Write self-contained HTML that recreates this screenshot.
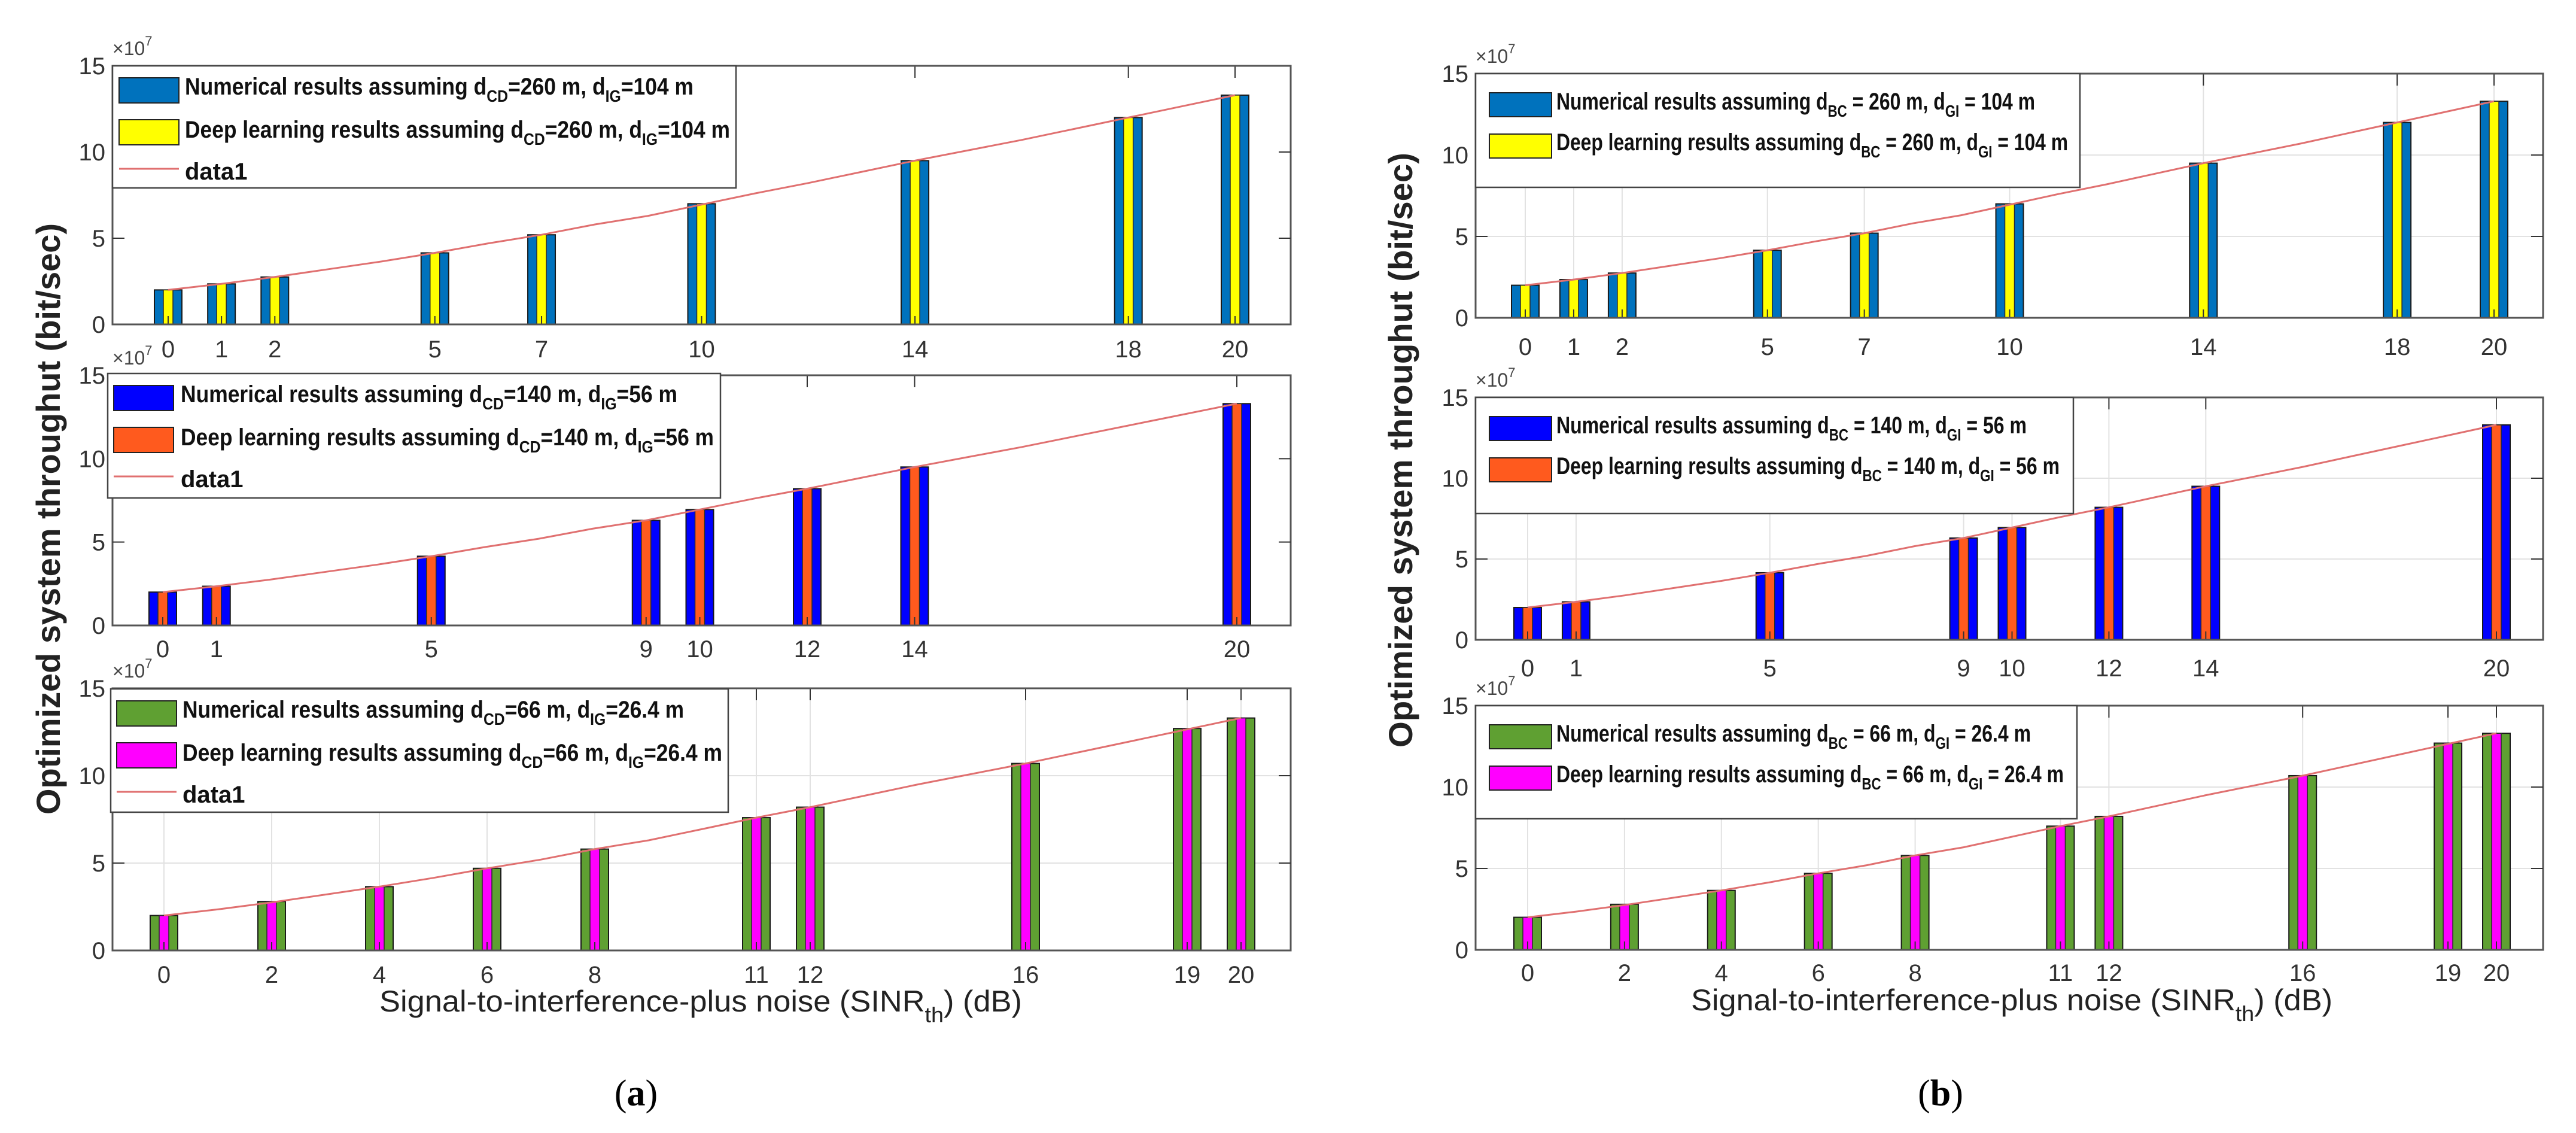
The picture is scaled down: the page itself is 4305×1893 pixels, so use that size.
<!DOCTYPE html>
<html><head><meta charset="utf-8">
<style>
html,body{margin:0;padding:0;background:#fff;}
svg{display:block;}
text{font-family:"Liberation Sans Narrow","Liberation Sans",sans-serif;}
</style></head>
<body>
<svg id="fig" width="4305" height="1893" viewBox="0 0 4305 1893" xmlns="http://www.w3.org/2000/svg">
<rect x="0" y="0" width="4305" height="1893" fill="#fff"/>
<text transform="translate(100,867) rotate(-90)" text-anchor="middle" font-family="Liberation Sans" font-weight="bold" font-size="56" fill="#222" textLength="988" lengthAdjust="spacingAndGlyphs" style="font-family:'Liberation Sans',sans-serif">Optimized system throughut (bit/sec)</text>
<text transform="translate(2360,752) rotate(-90)" text-anchor="middle" font-weight="bold" font-size="56" fill="#222" textLength="994" lengthAdjust="spacingAndGlyphs" style="font-family:'Liberation Sans',sans-serif">Optimized system throughut (bit/sec)</text>
<text x="634" y="1690" font-size="50" fill="#222" textLength="1074" lengthAdjust="spacingAndGlyphs">Signal-to-interference-plus noise (SINR<tspan font-size="36" dy="18">th</tspan><tspan dy="-18">) (dB)</tspan></text>
<text x="2826" y="1688" font-size="50" fill="#222" textLength="1072" lengthAdjust="spacingAndGlyphs">Signal-to-interference-plus noise (SINR<tspan font-size="36" dy="18">th</tspan><tspan dy="-18">) (dB)</tspan></text>
<text x="1063" y="1847" text-anchor="middle" font-size="62" fill="#000" style="font-family:'Liberation Serif',serif">(<tspan font-weight="bold">a</tspan>)</text>
<text x="3243" y="1847" text-anchor="middle" font-size="62" fill="#000" style="font-family:'Liberation Serif',serif">(<tspan font-weight="bold">b</tspan>)</text>
</svg>
<script>
// ---- data (values in units of 1e7 bit/sec) ----
const xTop = [0, 1, 2, 5, 7, 10, 14, 18, 20];
const yTopNum = [2.0, 2.35, 2.75, 4.15, 5.2, 7.0, 9.5, 12.0, 13.3];
const yTopDL = [2.0, 2.35, 2.75, 4.15, 5.2, 7.0, 9.5, 12.0, 13.3];
const xMid = [0, 1, 5, 9, 10, 12, 14, 20];
const yMidNum = [2.0, 2.35, 4.15, 6.3, 6.95, 8.2, 9.5, 13.3];
const yMidDL = [2.0, 2.35, 4.15, 6.3, 6.95, 8.2, 9.5, 13.3];
const xBot = [0, 2, 4, 6, 8, 11, 12, 16, 19, 20];
const yBotNum = [2.0, 2.8, 3.65, 4.7, 5.8, 7.6, 8.2, 10.7, 12.7, 13.3];
const yBotDL = [2.0, 2.8, 3.65, 4.7, 5.8, 7.6, 8.2, 10.7, 12.7, 13.3];
const lineX = [0,1,2,3,4,5,6,7,8,9,10,11,12,13,14,15,16,17,18,19,20];
const lineY = [2.0,2.35,2.75,3.2,3.65,4.15,4.7,5.2,5.8,6.3,6.95,7.6,8.2,8.85,9.5,10.1,10.7,11.35,12.0,12.65,13.3];
const yTicks = [0, 5, 10, 15];
const yTickLabels = ['0', '5', '10', '15'];

const NS = 'http://www.w3.org/2000/svg';
const svg = document.getElementById('fig');
function mk(tag, attrs, parent) {
  const e = document.createElementNS(NS, tag);
  for (const k in attrs) e.setAttribute(k, attrs[k]);
  parent.appendChild(e);
  return e;
}

function subplot(cfg) {
  const g = mk('g', {}, svg);
  
  
  const L = cfg.left, R = cfg.right, T = cfg.top, Z = cfg.zero;
  const xs = v => cfg.x0 + v * (cfg.x20 - cfg.x0) / 20;
  const ys = v => Z - v * (Z - T) / 15;
  // grid
  if (cfg.grid) {
    for (const t of [5, 10]) {
      const gl = mk('line', {x1: L, x2: R, y1: ys(t), y2: ys(t), stroke: '#e2e2e2', 'stroke-width': 2}, g);
      
      
    }
    for (const v of cfg.xs) {
      const gl = mk('line', {x1: xs(v), x2: xs(v), y1: T, y2: Z, stroke: '#e2e2e2', 'stroke-width': 2}, g);
      
      
    }
  }
  // bars
  cfg.xs.forEach((v, i) => {
    const b = mk('rect', {x: xs(v) - 23, y: ys(cfg.num[i]), width: 46, height: Z - ys(cfg.num[i]), fill: cfg.c1, stroke: '#1a1a1a', 'stroke-width': 2}, g);
    
    
    const d = mk('rect', {x: xs(v) - 8, y: ys(cfg.dl[i]), width: 16, height: Z - ys(cfg.dl[i]), fill: cfg.c2, stroke: '#2a2a2a', 'stroke-width': 1.5}, g);
    
    
    const tk = mk('line', {x1: xs(v), x2: xs(v), y1: Z, y2: Z - 14, stroke: '#333', 'stroke-width': 2}, g);
    
    
    const tt = mk('line', {x1: xs(v), x2: xs(v), y1: T, y2: T + 20, stroke: '#333', 'stroke-width': 2}, g);
    
    
    const lb = mk('text', {x: xs(v), y: cfg.labelY + 14, 'text-anchor': 'middle', 'font-size': 40, fill: '#333'}, g);
    lb.textContent = String(v);
    
    
  });
  // line
  const pts = lineX.map((v, i) => xs(v).toFixed(1) + ',' + ys(lineY[i]).toFixed(1)).join(' ');
  const pl = mk('polyline', {points: pts, fill: 'none', stroke: '#e07070', 'stroke-width': 3}, g);
  
  
  // axes box
  const box = mk('rect', {x: L, y: T, width: R - L, height: Z - T, fill: 'none', stroke: '#555', 'stroke-width': 3}, g);
  
  
  yTicks.forEach((t, i) => {
    const lb = mk('text', {x: L - 12, y: ys(t) + 14, 'text-anchor': 'end', 'font-size': 40, fill: '#333'}, g);
    lb.textContent = yTickLabels[i];
    
    
    if (t > 0 && t < 15) {
      const tk = mk('line', {x1: R, x2: R - 20, y1: ys(t), y2: ys(t), stroke: '#333', 'stroke-width': 2}, g);
      
      
      const tl = mk('line', {x1: L, x2: L + 20, y1: ys(t), y2: ys(t), stroke: '#333', 'stroke-width': 2}, g);
      
      
    }
  });
  const ex = mk('text', {x: L, y: T - 18, 'font-size': 32, fill: '#444'}, g);
  ex.innerHTML = '×10<tspan dy="-16" font-size="22">7</tspan>';
  
  
  // legend
  const lg = mk('g', {}, g);
  
  
  const lbx = mk('rect', {x: cfg.lx, y: cfg.ly, width: cfg.lw, height: cfg.lh, fill: '#fff', stroke: '#444', 'stroke-width': 2.5}, lg);
  
  
  const o = cfg.lo;
  const s1 = mk('rect', {x: o.sx, y: cfg.ly + o.s1, width: o.sw, height: o.sh, fill: cfg.c1, stroke: '#222', 'stroke-width': 2}, lg);
  
  
  const s2 = mk('rect', {x: o.sx, y: cfg.ly + o.s2, width: o.sw, height: o.sh, fill: cfg.c2, stroke: '#222', 'stroke-width': 2}, lg);
  
  
  const t1 = mk('text', {x: o.tx, y: cfg.ly + o.b1, 'font-size': 40, 'font-weight': 'bold', fill: '#111', textLength: o.w1, lengthAdjust: 'spacingAndGlyphs'}, lg);
  t1.innerHTML = cfg.t1;
  
  
  const t2 = mk('text', {x: o.tx, y: cfg.ly + o.b2, 'font-size': 40, 'font-weight': 'bold', fill: '#111', textLength: o.w2, lengthAdjust: 'spacingAndGlyphs'}, lg);
  t2.innerHTML = cfg.t2;
  
  
  if (cfg.data1) {
    const ll = mk('line', {x1: o.sx, x2: o.sx + o.sw, y1: cfg.ly + o.l3, y2: cfg.ly + o.l3, stroke: '#e07070', 'stroke-width': 3}, lg);
    
    
    const t3 = mk('text', {x: o.tx, y: cfg.ly + o.b3, 'font-size': 40, 'font-weight': 'bold', fill: '#111'}, lg);
    t3.textContent = 'data1';
    
    
  }
}

function lt(kind, a, b, da, db, sep) {
  return kind + ' results assuming d<tspan dy="12" font-size="28">' + a + '</tspan><tspan dy="-12">' + sep + da +
    ' m, d</tspan><tspan dy="12" font-size="28">' + b + '</tspan><tspan dy="-12">' + sep + db + ' m</tspan>';
}

const loA = (w1, w2) => ({sx: 199, sw: 100, sh: 42, s1: 20, s2: 90, b1: 48, b2: 120, l3: 172, b3: 190, tx: 309, w1: w1, w2: w2});
const loB = (w1, w2) => ({sx: 2489, sw: 104, sh: 40, s1: 32, s2: 101, b1: 60, b2: 128, tx: 2601, w1: w1, w2: w2});

// panel (a)
subplot({name: 'subplot-a-top', left: 188, right: 2157, top: 110, zero: 542, x0: 281, x20: 2064, labelY: 583, grid: false,
  xs: xTop, num: yTopNum, dl: yTopDL, c1: '#0072BD', c2: '#FFFF00',
  lx: 188, ly: 110, lw: 1042, lh: 204, lo: loA(850, 911), data1: true,
  t1: lt('Numerical', 'CD', 'IG', '260', '104', '='), t2: lt('Deep learning', 'CD', 'IG', '260', '104', '=')});
subplot({name: 'subplot-a-middle', left: 188, right: 2157, top: 627, zero: 1045, x0: 272, x20: 2067, labelY: 1084, grid: false,
  xs: xMid, num: yMidNum, dl: yMidDL, c1: '#0000FF', c2: '#FF5A1E',
  lx: 180, ly: 624, lw: 1024, lh: 208, lo: Object.assign(loA(830, 891), {sx: 190, tx: 302}), data1: true,
  t1: lt('Numerical', 'CD', 'IG', '140', '56', '='), t2: lt('Deep learning', 'CD', 'IG', '140', '56', '=')});
subplot({name: 'subplot-a-bottom', left: 188, right: 2157, top: 1150, zero: 1588, x0: 274, x20: 2074, labelY: 1628, grid: true,
  xs: xBot, num: yBotNum, dl: yBotDL, c1: '#5FA032', c2: '#FF00FF',
  lx: 185, ly: 1151, lw: 1032, lh: 206, lo: Object.assign(loA(838, 902), {sx: 195, tx: 305}), data1: true,
  t1: lt('Numerical', 'CD', 'IG', '66', '26.4', '='), t2: lt('Deep learning', 'CD', 'IG', '66', '26.4', '=')});
// panel (b)
subplot({name: 'subplot-b-top', left: 2466, right: 4250, top: 123, zero: 531, x0: 2549, x20: 4168, labelY: 579, grid: true,
  xs: xTop, num: yTopNum, dl: yTopDL, c1: '#0072BD', c2: '#FFFF00',
  lx: 2466, ly: 123, lw: 1010, lh: 190, lo: loB(800, 855), data1: false,
  t1: lt('Numerical', 'BC', 'GI', '260', '104', ' = '), t2: lt('Deep learning', 'BC', 'GI', '260', '104', ' = ')});
subplot({name: 'subplot-b-middle', left: 2466, right: 4250, top: 664, zero: 1069, x0: 2553, x20: 4172, labelY: 1116, grid: true,
  xs: xMid, num: yMidNum, dl: yMidDL, c1: '#0000FF', c2: '#FF5A1E',
  lx: 2466, ly: 664, lw: 999, lh: 194, lo: loB(786, 841), data1: false,
  t1: lt('Numerical', 'BC', 'GI', '140', '56', ' = '), t2: lt('Deep learning', 'BC', 'GI', '140', '56', ' = ')});
subplot({name: 'subplot-b-bottom', left: 2466, right: 4250, top: 1179, zero: 1587, x0: 2553, x20: 4172, labelY: 1625, grid: true,
  xs: xBot, num: yBotNum, dl: yBotDL, c1: '#5FA032', c2: '#FF00FF',
  lx: 2466, ly: 1179, lw: 1005, lh: 189, lo: loB(793, 848), data1: false,
  t1: lt('Numerical', 'BC', 'GI', '66', '26.4', ' = '), t2: lt('Deep learning', 'BC', 'GI', '66', '26.4', ' = ')});
</script>
</body></html>
